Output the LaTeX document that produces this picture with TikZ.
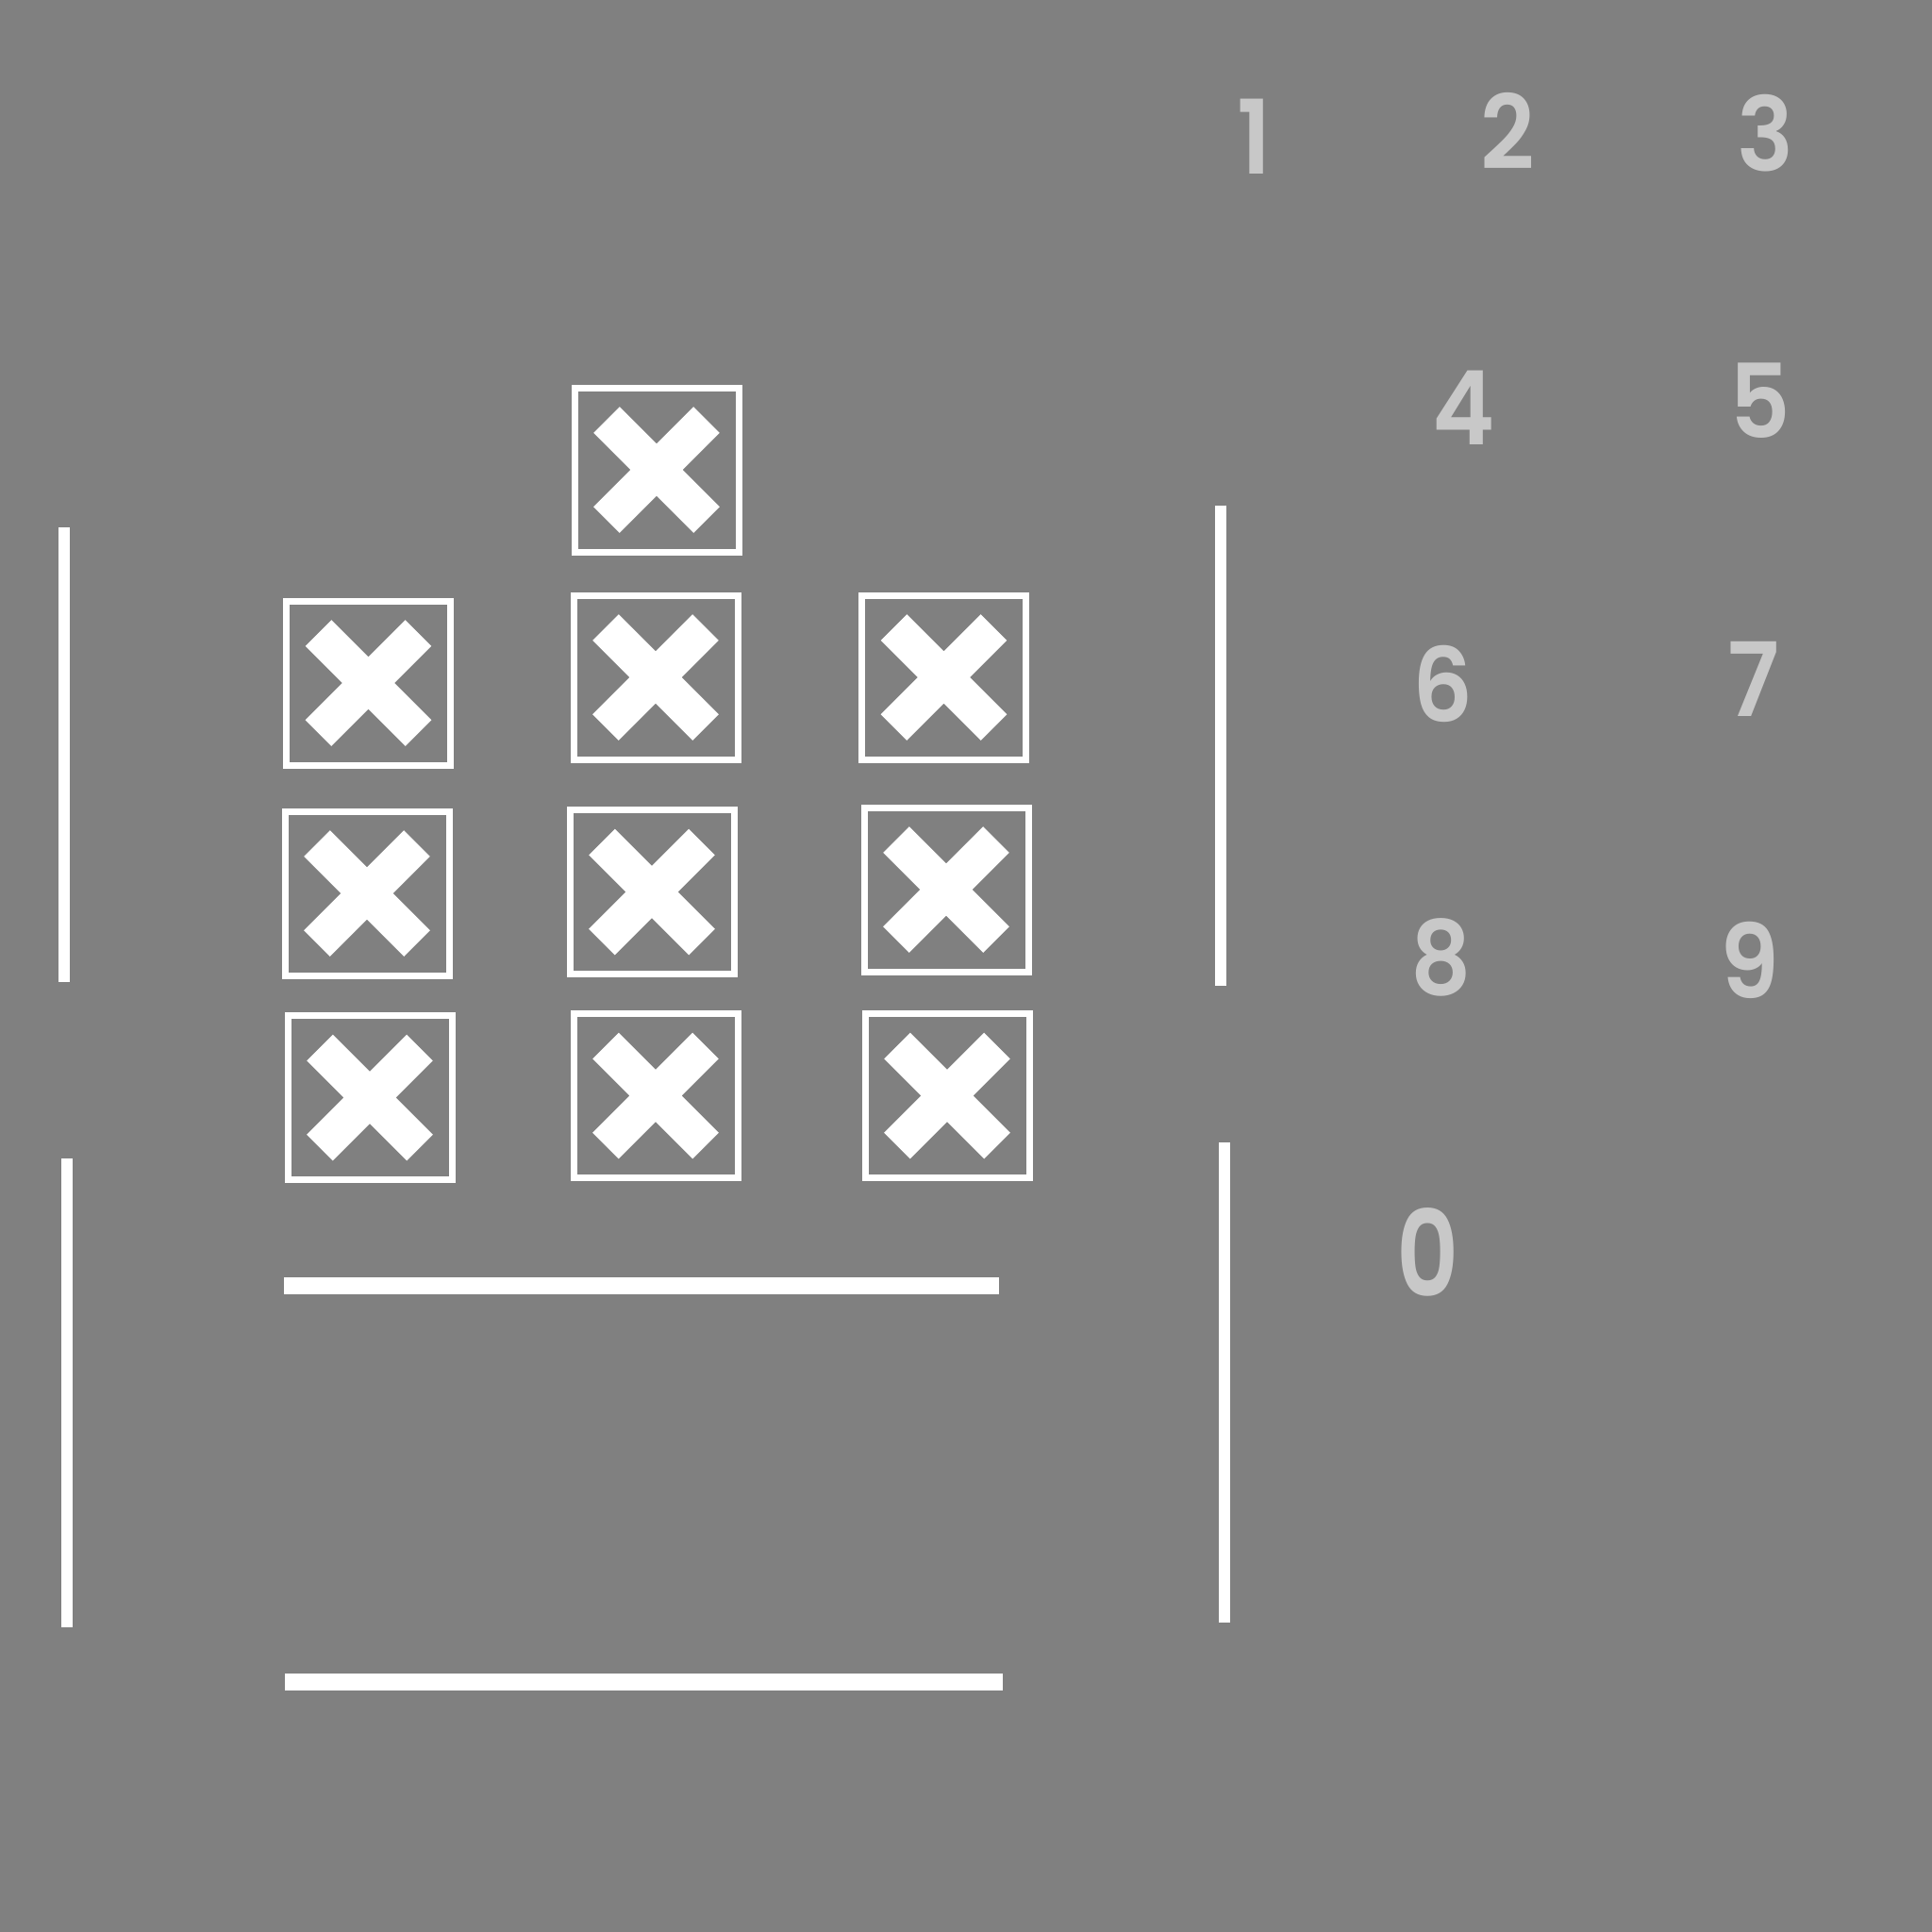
\documentclass[tikz,border=0pt]{standalone}
\usepackage{fontspec}
\setmainfont{Poppins}
\newfontfamily\digitfont{Poppins SemiBold}
\usepackage{tikz}
\usepackage{xcolor}
\usetikzlibrary{
    shapes,
    shapes.misc
}
\definecolor{backgray}{HTML}{808080}
\definecolor{digitgray}{HTML}{C8C8C8}

\begin{document}
\begin{tikzpicture}[
    box/.style={draw=white, line width=0.07cm, minimum size=1.74cm, inner sep=0pt},
    xmark/.style={draw=white, cross out, line width=0.39cm, minimum size=1.06cm, inner sep=0pt, outer sep=0pt},
    bar/.style={white, line width=0.12cm},
    floor/.style={white, line width=0.18cm},
    digit/.style={text=digitgray, inner sep=0pt, font=\fontsize{31pt}{31pt}\digitfont, xscale=0.92},
    bigdigit/.style={digit, font=\fontsize{36pt}{36pt}\digitfont, xscale=0.88}
]
            \fill[backgray] (0,0) rectangle (20.48,-20.48);
            \useasboundingbox (0,0) rectangle (20.48,-20.48);

            \node[box] (topbox) at (6.96,-4.98) {};
            \node[xmark] (xtop) at (topbox) {};

            \node[box] (left1) at (3.905,-7.24) {};
            \node[box] (mid1) at (6.95,-7.18) {};
            \node[box] (right1) at (10.005,-7.18) {};
            \node[box] (left2) at (3.89,-9.47) {};
            \node[box] (mid2) at (6.91,-9.455) {};
            \node[box] (right2) at (10.03,-9.43) {};
            \node[box] (left3) at (3.92,-11.635) {};
            \node[box] (mid3) at (6.95,-11.615) {};
            \node[box] (right3) at (10.04,-11.615) {};

            \node[xmark] (xleft1) at (left1) {};
            \node[xmark] (xmid1) at (mid1) {};
            \node[xmark] (xright1) at (right1) {};
            \node[xmark] (xleft2) at (left2) {};
            \node[xmark] (xmid2) at (mid2) {};
            \node[xmark] (xright2) at (right2) {};
            \node[xmark] (xleft3) at (left3) {};
            \node[xmark] (xmid3) at (mid3) {};
            \node[xmark] (xright3) at (right3) {};

            \draw[bar] (0.68,-5.59) -- (0.68,-10.41);
            \draw[bar] (0.71,-12.28) -- (0.71,-17.25);
            \draw[bar] (12.94,-5.355) -- (12.94,-10.45);
            \draw[bar] (12.975,-12.11) -- (12.975,-17.20);
            \draw[floor] (3.01,-13.63) -- (10.59,-13.63);
            \draw[floor] (3.02,-17.825) -- (10.63,-17.825);

            \node[digit] (one) at (13.30,-1.45) {1};
            \node[digit] (two) at (15.98,-1.385) {2};
            \node[digit] (three) at (18.72,-1.41) {3};
            \node[digit] (four) at (15.52,-4.32) {4};
            \node[digit] (five) at (18.66,-4.25) {5};
            \node[digit] (six) at (15.30,-7.25) {6};
            \node[digit] (seven) at (18.59,-7.20) {7};
            \node[digit] (eight) at (15.275,-10.15) {8};
            \node[digit] (nine) at (18.545,-10.18) {9};
            \node[bigdigit] (zero) at (15.14,-13.27) {0};
\end{tikzpicture}
\end{document}
